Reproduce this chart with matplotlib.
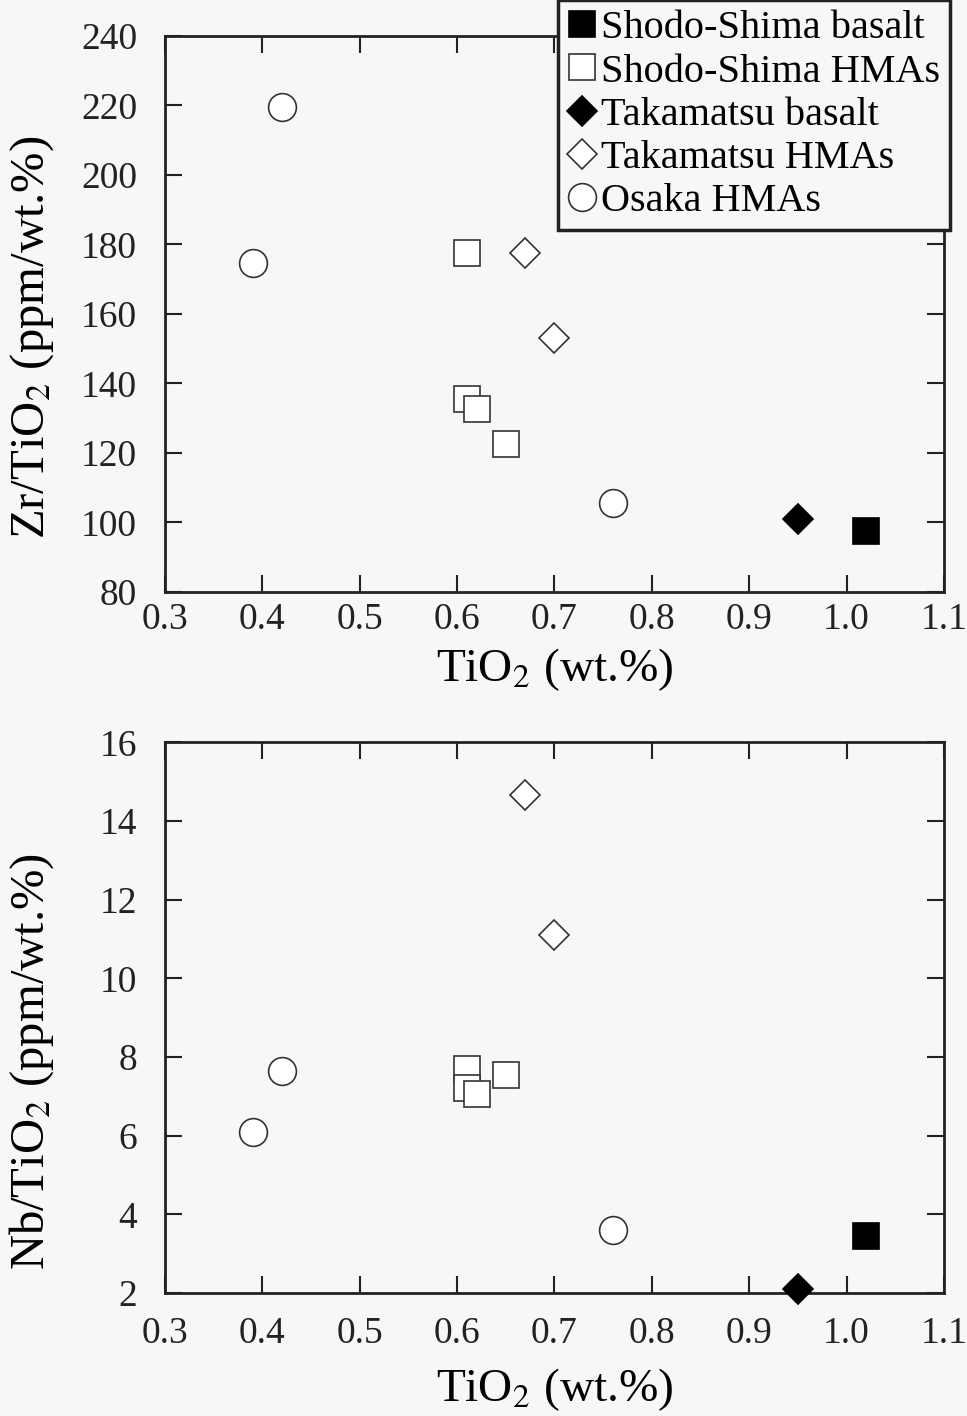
import matplotlib
matplotlib.use("Agg")
import matplotlib.pyplot as plt
from matplotlib.lines import Line2D

plt.rcParams['font.family'] = ['Liberation Serif', 'DejaVu Serif']
plt.rcParams['mathtext.fontset'] = 'stix'

# TiO2 (wt.%) and ratios for each group
groups = ["Shodo-Shima basalt", "Shodo-Shima HMAs", "Takamatsu basalt",
          "Takamatsu HMAs", "Osaka HMAs"]

ss_bas_ti = [1.02]
ss_bas_zr = [97.5]
ss_bas_nb = [3.45]

ss_hma_ti = [0.61, 0.61, 0.62, 0.65]
ss_hma_zr = [177.5, 135.5, 132.5, 122.5]
ss_hma_nb = [7.7, 7.2, 7.05, 7.55]

tk_bas_ti = [0.95]
tk_bas_zr = [101]
tk_bas_nb = [2.1]

tk_hma_ti = [0.67, 0.70]
tk_hma_zr = [177.5, 153]
tk_hma_nb = [14.65, 11.1]

os_hma_ti = [0.42, 0.39, 0.76]
os_hma_zr = [219.5, 174.5, 105.5]
os_hma_nb = [7.65, 6.1, 3.6]

styles = [
    dict(marker='s', ms=19, mfc='black', mec='black'),
    dict(marker='s', ms=19, mfc='white', mec='#333333'),
    dict(marker='D', ms=15, mfc='black', mec='black'),
    dict(marker='D', ms=15, mfc='white', mec='#333333'),
    dict(marker='o', ms=20, mfc='white', mec='#333333'),
]

bg = '#f7f7f5'
fig = plt.figure(figsize=(9.67, 14.16), dpi=100, facecolor=bg)
ax1 = fig.add_axes([0.1706, 0.582, 0.8055, 0.3927])
ax2 = fig.add_axes([0.1706, 0.0869, 0.8055, 0.3888])

top_data = [(ss_bas_ti, ss_bas_zr), (ss_hma_ti, ss_hma_zr), (tk_bas_ti, tk_bas_zr),
            (tk_hma_ti, tk_hma_zr), (os_hma_ti, os_hma_zr)]
bot_data = [(ss_bas_ti, ss_bas_nb), (ss_hma_ti, ss_hma_nb), (tk_bas_ti, tk_bas_nb),
            (tk_hma_ti, tk_hma_nb), (os_hma_ti, os_hma_nb)]

for ax, data in [(ax1, top_data), (ax2, bot_data)]:
    ax.set_facecolor(bg)
    for (x, y), st in zip(data, styles):
        ax.plot(x, y, ls='none', mew=1.2, clip_on=False, zorder=3, **st)
    ax.set_xlim(0.3, 1.1)
    ax.set_xticks([0.3, 0.4, 0.5, 0.6, 0.7, 0.8, 0.9, 1.0, 1.1])
    ax.set_xticklabels(['0.3', '0.4', '0.5', '0.6', '0.7', '0.8', '0.9', '1.0', '1.1'])
    ax.tick_params(direction='in', length=12, width=1.5, top=True, right=True,
                   labelsize=27, colors='#222222')
    ax.tick_params(axis='y', pad=20)
    for sp in ax.spines.values():
        sp.set_linewidth(2)
        sp.set_color('#222222')

ax1.tick_params(axis='x', pad=8)
ax1.set_xlabel('TiO$_2$ (wt.%)', fontsize=34, labelpad=6)
ax2.tick_params(axis='x', pad=17)
ax2.set_xlabel('TiO$_2$ (wt.%)', fontsize=34, labelpad=11)

ax1.set_ylim(80, 240)
ax1.set_yticks(range(80, 241, 20))
ax1.set_ylabel('Zr/TiO$_2$ (ppm/wt.%)', fontsize=35)
ax1.yaxis.set_label_coords(-0.14, 0.457)

ax2.set_ylim(2, 16)
ax2.set_yticks(range(2, 17, 2))
ax2.set_ylabel('Nb/TiO$_2$ (ppm/wt.%)', fontsize=35)
ax2.yaxis.set_label_coords(-0.14, 0.42)

handles = [Line2D([], [], ls='none', mew=1.2, **st) for st in styles]
leg = fig.legend(handles, groups, loc='upper left', bbox_to_anchor=(0.577, 1.0),
                 fontsize=29, frameon=True, fancybox=False, shadow=False,
                 handlelength=0.7, handletextpad=0.12, borderpad=0.25,
                 labelspacing=0.15, borderaxespad=0)
leg.get_frame().set_edgecolor('#222222')
leg.get_frame().set_facecolor(bg)
leg.get_frame().set_alpha(1)
leg.get_frame().set_linewidth(2.5)
leg.set_zorder(10)

fig.savefig('out.png', dpi=100, facecolor=bg)
